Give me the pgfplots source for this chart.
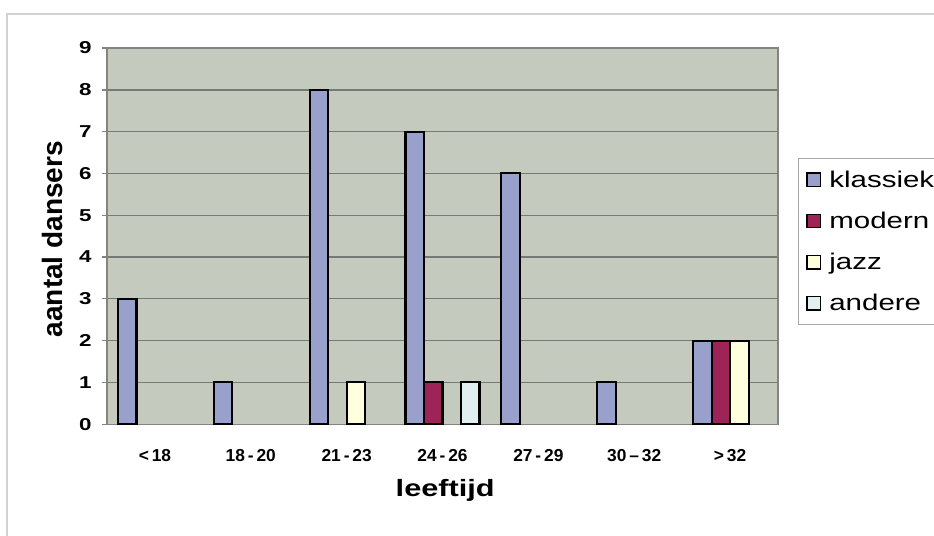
\documentclass[border=0pt]{standalone}
\usepackage{pgfplots}
\pgfplotsset{compat=1.18}
\usepackage{fontspec}
\setmainfont{Liberation Sans}

\definecolor{plotbg}{RGB}{196,202,190}
\definecolor{gridc}{RGB}{118,122,116}
\definecolor{framec}{RGB}{130,132,128}
\definecolor{klassiek}{RGB}{153,160,204}
\definecolor{modern}{RGB}{158,36,88}
\definecolor{jazz}{RGB}{255,255,222}
\definecolor{andere}{RGB}{224,240,240}

\newcommand{\wide}[1]{\scalebox{1.3}[1]{#1}}

\begin{document}
\begin{tikzpicture}
\begin{axis}[
  scale only axis,
  width=503pt, height=282pt,
  xmin=-0.5, xmax=6.5, ymin=0, ymax=9,
  axis background/.style={fill=plotbg},
  axis line style={framec, line width=1pt},
  ymajorgrids,
  major grid style={gridc, line width=1pt},
  ytick={0,1,...,9},
  ytick pos=left,
  tick align=outside,
  major tick length=4pt,
  ytick style={framec, line width=1pt},
  /pgf/number format/assume math mode=true,
  yticklabel={\wide{\pgfmathprintnumber{\tick}}},
  yticklabel shift=4pt,
  yticklabel style={font=\bfseries\fontsize{12.9}{13}\selectfont},
  xtick={0,...,6},
  xtick style={draw=none},
  xticklabels={{<\,18},{18\,-\,20},{21\,-\,23},{24\,-\,26},{27\,-\,29},{30\,--\,32},{>\,32}},
  xticklabel style={font=\bfseries\fontsize{13}{13}\selectfont},
  xticklabel shift=11pt,
  xlabel={\wide{leeftijd}},
  xlabel style={font=\bfseries\fontsize{17.7}{18}\selectfont,
    at={(rel axis cs:0.504,-0.1755)}, anchor=center},
  ylabel={aantal dansers},
  ylabel style={font=\bfseries\fontsize{21}{22}\selectfont,
    at={(rel axis cs:-0.081,0.492)}, anchor=center},
  legend style={at={(rel axis cs:1.0298,0.707)}, anchor=north west,
    draw=framec!70, line width=0.6pt, fill=white,
    font=\fontsize{17}{18}\selectfont,
    row sep=13pt, inner xsep=6pt, inner ysep=7pt},
  legend cell align=left,
  legend image code/.code={%
    \draw[#1, line width=1.2pt] (0pt,-5pt) rectangle (10pt,5pt);},
  clip=false,
]
% bars: only non-zero counts are drawn
\addplot[ybar, bar width=0.193, bar shift=-0.2895, fill=klassiek, draw=black, line width=1.6pt]
  coordinates {(0,3) (1,1) (2,8) (3,7) (4,6) (5,1) (6,2)};
\addplot[ybar, bar width=0.193, bar shift=-0.0965, fill=modern, draw=black, line width=1.6pt]
  coordinates {(3,1) (6,2)};
\addplot[ybar, bar width=0.193, bar shift=0.0965, fill=jazz, draw=black, line width=1.6pt]
  coordinates {(2,1) (6,2)};
\addplot[ybar, bar width=0.193, bar shift=0.2895, fill=andere, draw=black, line width=1.6pt]
  coordinates {(3,1)};
\legend{\hspace{4pt}\wide{klassiek},\hspace{4pt}\wide{modern},\hspace{4pt}\wide{jazz},\hspace{4pt}\wide{andere}}

\coordinate (bbSW) at (rel axis cs:-0.1595,-0.2952);
\coordinate (bbNE) at (rel axis cs:1.2325,1.1277);
\coordinate (frSW) at (rel axis cs:-0.149,-0.60);
\coordinate (frNE) at (rel axis cs:1.50,1.0904);
\end{axis}
% chart area border
\draw[black!18, line width=1pt] (frSW) rectangle (frNE);
\pgfresetboundingbox
\path (bbSW) rectangle (bbNE);
\end{tikzpicture}
\end{document}
